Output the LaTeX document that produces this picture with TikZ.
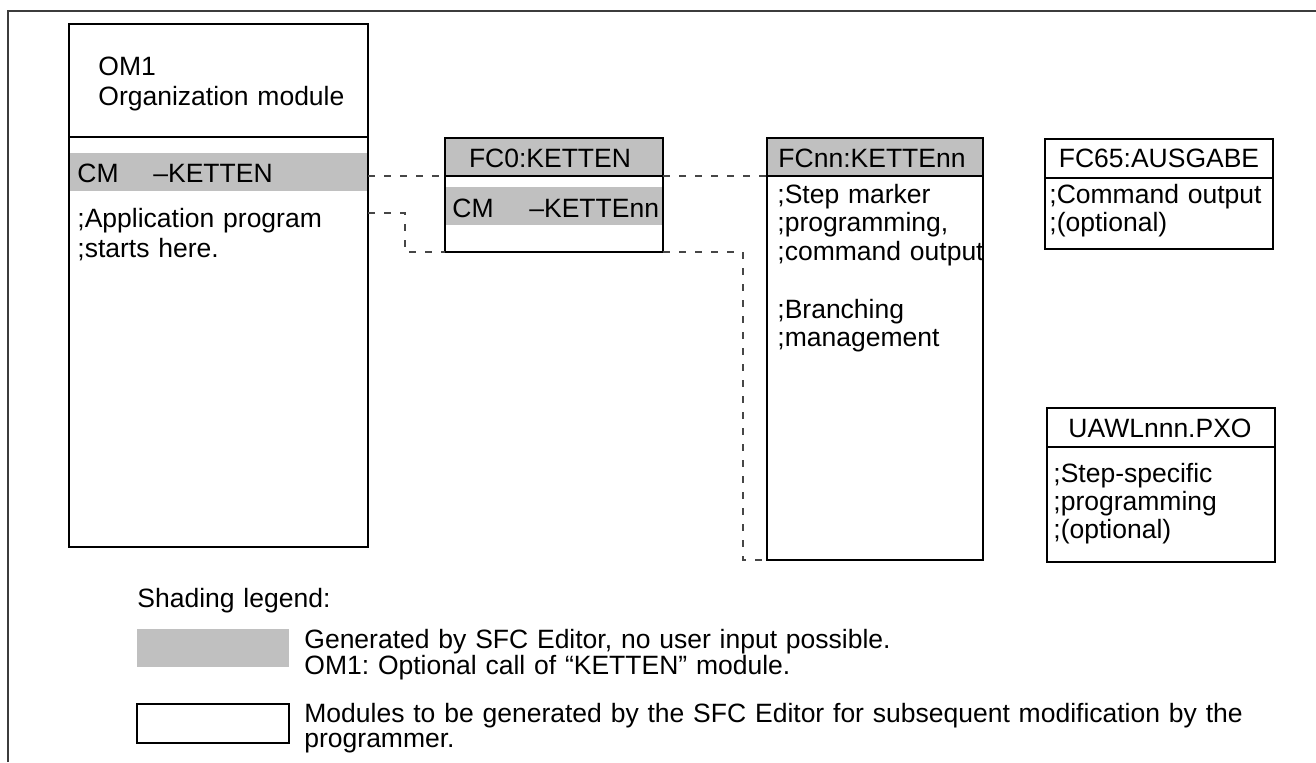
\documentclass[tikz,border=0pt]{standalone}
\usepackage{fontspec}
\setmainfont{Liberation Sans}
\frenchspacing
\definecolor{shade}{RGB}{192,192,192}
\definecolor{framec}{RGB}{60,60,60}
\definecolor{dashc}{RGB}{70,70,70}
\begin{document}
\begin{tikzpicture}[x=0.5pt,y=-0.5pt,
  box/.style={draw=black, line width=1pt, inner sep=0pt, outer sep=0pt, anchor=north west},
  band/.style={fill=shade, draw=none, inner sep=0pt, outer sep=0pt, anchor=north west},
  txt/.style={font=\fontsize{13.25}{14.25}\selectfont\frenchspacing, inner sep=0pt, anchor=base west, align=left, text width=130pt},
  htxt/.style={font=\fontsize{13.25}{14.25}\selectfont, inner sep=0pt, anchor=base},
  conn/.style={draw=dashc, line width=0.55pt, dash pattern=on 3.5pt off 4.5pt},
  frameline/.style={draw=framec, line width=1pt}]
\useasboundingbox (0,0) rectangle (1316,762);
% frame
\coordinate (fbl) at (8,762);
\coordinate (ftl) at (8,10.5);
\coordinate (ftr) at (1316,10.5);
\draw[frameline] (fbl) -- (ftl) -- (ftr);

% shaded bands (drawn first)
\node[band, minimum width=149.5pt, minimum height=19pt] (om1band) at (69,153) {};
\node[band, minimum width=109pt, minimum height=19pt] (fc0band) at (445,187) {};

% OM1
\node[box, minimum width=149.5pt, minimum height=261.5pt] (om1) at (69,24) {};
\node[box, minimum width=149.5pt, minimum height=56.5pt] (om1h) at (69,24) {};
\node[txt, font=\fontsize{13.25}{15}\selectfont] (om1t) at (98,75) {OM1\\Organization module};
\node[txt] (om1cm) at (77,182) {\makebox[38pt][l]{CM}–KETTEN};
\node[txt, font=\fontsize{13.25}{15}\selectfont] (om1app) at (77,227) {;Application program\\;starts here.};

% FC0
\node[box, minimum width=109pt, minimum height=57pt] (fc0) at (445,138) {};
\node[box, fill=shade, minimum width=109pt, minimum height=19pt] (fc0h) at (445,138) {};
\node[htxt] (fc0t) at (550,167) {FC0:KETTEN};
\node[txt] (fc0cm) at (452,217) {\makebox[38.5pt][l]{CM}–KETTEnn};

% FCnn
\node[box, minimum width=108pt, minimum height=211pt] (fcnn) at (767,138) {};
\node[box, fill=shade, minimum width=108pt, minimum height=19pt] (fcnnh) at (767,138) {};
\node[htxt] (fcnnt) at (872,167) {FCnn:KETTEnn};
\node[txt] (fcnn1) at (777,203) {;Step marker\\;programming,\\;command output};
\node[txt] (fcnn2) at (777,318) {;Branching\\;management};

% FC65
\node[box, minimum width=114pt, minimum height=55pt] (fc65) at (1045,139) {};
\node[box, minimum width=114pt, minimum height=19.5pt] (fc65h) at (1045,139) {};
\node[htxt] (fc65t) at (1159,167) {FC65:AUSGABE};
\node[txt, font=\fontsize{13.25}{14}\selectfont] (fc65b) at (1049,203) {;Command output\\;(optional)};

% UAWL
\node[box, minimum width=114pt, minimum height=77pt] (uawl) at (1047,408) {};
\node[box, minimum width=114pt, minimum height=19.5pt] (uawlh) at (1047,408) {};
\node[htxt] (uawlt) at (1160,437) {UAWLnnn.PXO};
\node[txt, font=\fontsize{13.25}{14}\selectfont] (uawlb) at (1053,482) {;Step-specific\\;programming\\;(optional)};

% dashed connectors
\draw[conn] (fc0h.south west -| om1.east) -- (fc0h.south west);
\draw[conn] (fc0h.south east) -- (fcnnh.south west);
\coordinate (j1) at (405,213);
\draw[conn] (j1 -| om1.east) -- (j1) |- (fc0.south west);
\coordinate (j2) at (743,560);
\draw[conn] (fc0.south east) -| (j2) -- (fcnn.south west);

% legend
\node[txt] (legt) at (137,607) {Shading legend:};
\node[band, minimum width=76pt, minimum height=19pt] (leggray) at (137,629) {};
\node[txt, text width=500pt, font=\fontsize{13.25}{13}\selectfont\frenchspacing] (leggrayt) at (304,648) {Generated by SFC Editor, no user input possible.\\OM1: Optional call of “KETTEN” module.};
\node[box, minimum width=76pt, minimum height=19.5pt] (legwhite) at (137,704) {};
\node[txt, text width=500pt, font=\fontsize{13.25}{12.5}\selectfont\frenchspacing] (legwhitet) at (304,722) {Modules to be generated by the SFC Editor for subsequent modification by the\\programmer.};
\end{tikzpicture}
\end{document}
